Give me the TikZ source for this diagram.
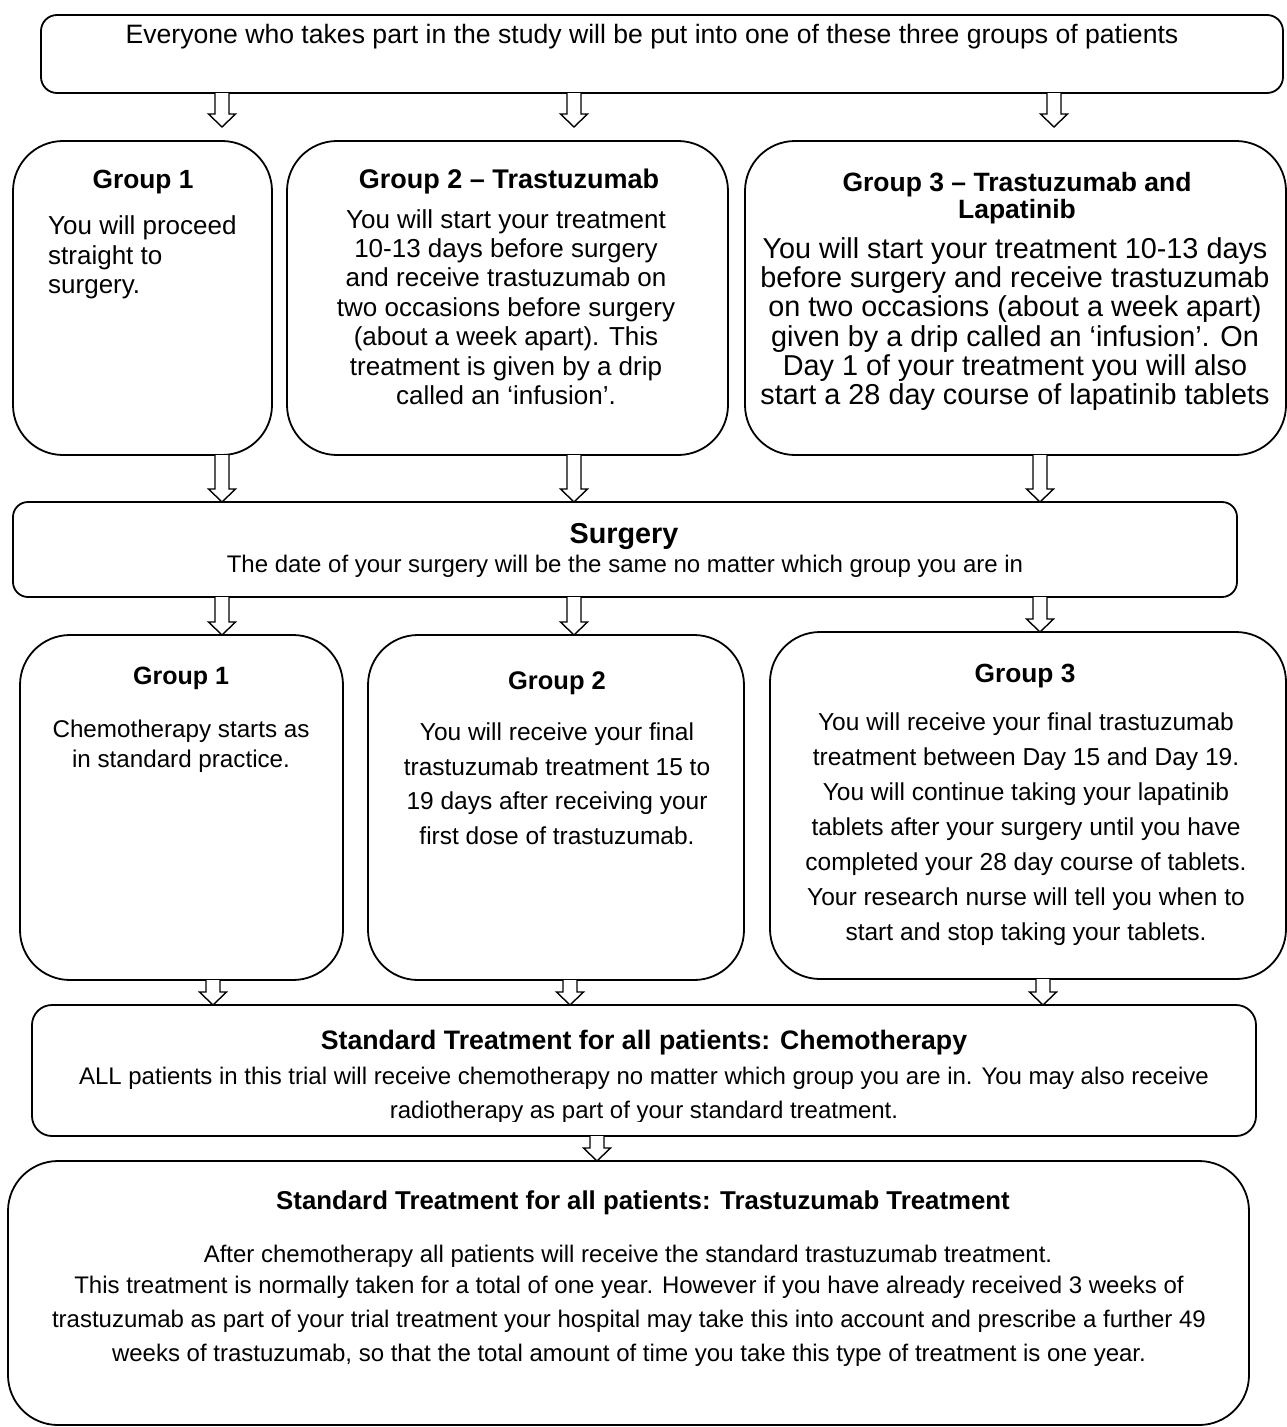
\documentclass[tikz,border=0pt]{standalone}
\usepackage{fontspec}
\setmainfont{Liberation Sans}
\usetikzlibrary{calc}

\tikzset{
	box/.style={draw, line width=1.8pt, inner sep=0pt, outer sep=0pt, anchor=north west},
	txt/.style={inner sep=0pt, align=center, anchor=base},
	par/.style={inner sep=0pt, align=center, anchor=north},
	arrowline/.style={draw, line width=1.4pt, fill=white},
}
% hollow block arrow pointing down: start, target, gap above target
\newcommand{\hollowdown}[3]{%
	\draw[arrowline] let \p1=#1, \p2=#2 in
	(\x1-7pt,\y1) -- (\x1-7pt,\y2+#3pt+13pt) -- (\x1-13.5pt,\y2+#3pt+13pt) -- (\x1,\y2+#3pt)
	-- (\x1+13.5pt,\y2+#3pt+13pt) -- (\x1+7pt,\y2+#3pt+13pt) -- (\x1+7pt,\y1);}

\begin{document}
\begin{tikzpicture}[x=1pt,y=-1pt]
	\useasboundingbox (0,0) rectangle (1287,1427);
	
	%Boxes
	\node[box, rounded corners=16pt, minimum width=1242pt, minimum height=78pt]  (top)   at (41,15)   {};
	\node[box, rounded corners=50pt, minimum width=259pt, minimum height=314pt]  (g1t)   at (13,141)  {};
	\node[box, rounded corners=50pt, minimum width=441pt, minimum height=314pt]  (g2t)   at (287,141) {};
	\node[box, rounded corners=50pt, minimum width=541pt, minimum height=314pt]  (g3t)   at (745,141) {};
	\node[box, rounded corners=15pt, minimum width=1224pt, minimum height=95pt]  (surg)  at (13,502)  {};
	\node[box, rounded corners=50pt, minimum width=323pt, minimum height=345pt]  (g1b)   at (20,635)  {};
	\node[box, rounded corners=50pt, minimum width=376pt, minimum height=345pt]  (g2b)   at (368,635) {};
	\node[box, rounded corners=50pt, minimum width=516pt, minimum height=347pt]  (g3b)   at (770,632) {};
	\node[box, rounded corners=20pt, minimum width=1224pt, minimum height=131pt] (chemo) at (32,1005) {};
	\node[box, rounded corners=50pt, minimum width=1241pt, minimum height=264pt] (final) at (8,1161)  {};
	
	%Texts
	\node[txt, font=\fontsize{26.6}{30}\selectfont] (toptext) at (652,43)
	{Everyone who takes part in the study will be put into one of these three groups of patients};
	
	\node[txt, font=\bfseries\fontsize{26.3}{29}\selectfont] (g1thead) at (143,188) {Group 1};
	\node[inner sep=0pt, align=left, anchor=north west, font=\fontsize{26}{29.5}\selectfont] (g1tbody) at (48,215.5)
	{You will proceed\\straight to\\surgery.};
	
	\node[txt, font=\bfseries\fontsize{27}{29}\selectfont] (g2thead) at (509,188) {Group 2 – Trastuzumab};
	\node[par, font=\fontsize{26}{29.4}\selectfont] (g2tbody) at (506,209)
	{You will start your treatment\\10-13 days before surgery\\and receive trastuzumab on\\two occasions before surgery\\(about a week apart). This\\treatment is given by a drip\\called an ‘infusion’.};
	
	\node[par, font=\bfseries\fontsize{26.5}{27}\selectfont] (g3thead) at (1017,172) {Group 3 – Trastuzumab and\\Lapatinib};
	\node[par, font=\fontsize{28.8}{29.2}\selectfont] (g3tbody) at (1015,237.5)
	{You will start your treatment 10-13 days\\before surgery and receive trastuzumab\\on two occasions (about a week apart)\\given by a drip called an ‘infusion’. On\\Day 1 of your treatment you will also\\start a 28 day course of lapatinib tablets};
	
	\node[txt, font=\bfseries\fontsize{28.8}{32}\selectfont] (surghead) at (624,543) {Surgery};
	\node[txt, font=\fontsize{24}{26}\selectfont] (surgbody) at (625,572)
	{The date of your surgery will be the same no matter which group you are in};
	
	\node[txt, font=\bfseries\fontsize{25}{28}\selectfont] (g1bhead) at (181,684) {Group 1};
	\node[par, font=\fontsize{24.2}{30}\selectfont] (g1bbody) at (181,719.6)
	{Chemotherapy starts as\\in standard practice.};
	
	\node[txt, font=\bfseries\fontsize{25.5}{28}\selectfont] (g2bhead) at (557,689) {Group 2};
	\node[par, font=\fontsize{24.5}{34.7}\selectfont] (g2bbody) at (557,722.6)
	{You will receive your final\\trastuzumab treatment 15 to\\19 days after receiving your\\first dose of trastuzumab.};
	
	\node[txt, font=\bfseries\fontsize{26.3}{28}\selectfont] (g3bhead) at (1025,682) {Group 3};
	\node[par, font=\fontsize{24.5}{35}\selectfont] (g3bbody) at (1026,712.6)
	{You will receive your final trastuzumab\\treatment between Day 15 and Day 19.\\You will continue taking your lapatinib\\tablets after your surgery until you have\\completed your 28 day course of tablets.\\Your research nurse will tell you when to\\start and stop taking your tablets.};
	
	\node[txt, font=\bfseries\fontsize{26.7}{29}\selectfont] (chemohead) at (644,1049)
	{Standard Treatment for all patients: Chemotherapy};
	\begin{scope}
		\clip (0,1050) rectangle (1287,1121);
		\node[par, font=\fontsize{24}{34}\selectfont] (chemobody) at (644,1066.8)
		{ALL patients in this trial will receive chemotherapy no matter which group you are in. You may also receive\\radiotherapy as part of your standard treatment.};
	\end{scope}
	
	\node[txt, font=\bfseries\fontsize{25.8}{29}\selectfont] (finalhead) at (643,1209)
	{Standard Treatment for all patients: Trastuzumab Treatment};
	\node[txt, font=\fontsize{24}{34}\selectfont] (finalbody) at (628,1262)
	{After chemotherapy all patients will receive the standard trastuzumab treatment.};
	\node[par, font=\fontsize{24}{34}\selectfont] (finalmore) at (629,1275.5)
	{This treatment is normally taken for a total of one year. However if you have already received 3 weeks of\\trastuzumab as part of your trial treatment your hospital may take this into account and prescribe a further 49\\weeks of trastuzumab, so that the total amount of time you take this type of treatment is one year.};
	
	%Arrows
	\coordinate (a1) at (222,0);
	\coordinate (a2) at (574,0);
	\coordinate (a3) at (1054,0);
	\coordinate (b3) at (1040,0);
	\coordinate (d1) at (213,0);
	\coordinate (d2) at (570,0);
	\coordinate (d3) at (1043,0);
	\coordinate (e1) at (597,0);
	
	\hollowdown{(top.south -| a1)}{(g1t.north -| a1)}{14}
	\hollowdown{(top.south -| a2)}{(g2t.north -| a2)}{14}
	\hollowdown{(top.south -| a3)}{(g3t.north -| a3)}{14}
	
	\hollowdown{(g1t.south -| a1)}{(surg.north -| a1)}{0}
	\hollowdown{(g2t.south -| a2)}{(surg.north -| a2)}{0}
	\hollowdown{(g3t.south -| b3)}{(surg.north -| b3)}{0}
	
	\hollowdown{(surg.south -| a1)}{(g1b.north -| a1)}{0}
	\hollowdown{(surg.south -| a2)}{(g2b.north -| a2)}{0}
	\hollowdown{(surg.south -| b3)}{(g3b.north -| b3)}{0}
	
	\hollowdown{(g1b.south -| d1)}{(chemo.north -| d1)}{0}
	\hollowdown{(g2b.south -| d2)}{(chemo.north -| d2)}{0}
	\hollowdown{(g3b.south -| d3)}{(chemo.north -| d3)}{0}
	
	\hollowdown{(chemo.south -| e1)}{(final.north -| e1)}{0}
\end{tikzpicture}
\end{document}
